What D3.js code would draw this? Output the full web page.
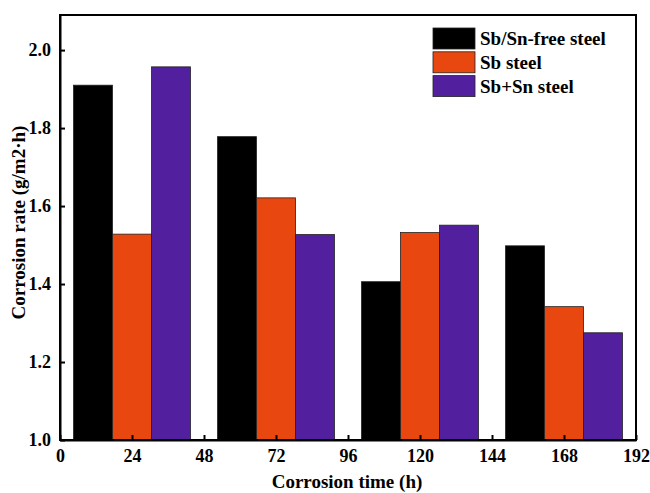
<!DOCTYPE html>
<html><head><meta charset="utf-8">
<script src="https://cdn.jsdelivr.net/npm/d3@7"></script>
<style>body{margin:0;background:#fff}svg{display:block}</style>
</head><body><svg id="c" width="650" height="493"></svg>
<script>
const times = [24, 72, 120, 168];
const seriesNames = ["Sb/Sn-free steel", "Sb steel", "Sb+Sn steel"];
const seriesColors = ["#000000", "#E8480F", "#52209E"];
const freeSteel = [1.910, 1.778, 1.406, 1.498];
const sbSteel = [1.528, 1.621, 1.532, 1.342];
const sbSnSteel = [1.957, 1.527, 1.551, 1.275];
const xTicks = [0, 24, 48, 72, 96, 120, 144, 168, 192];
const yTicks = [1.0, 1.2, 1.4, 1.6, 1.8, 2.0];
const series = [freeSteel, sbSteel, sbSnSteel];

const svg = d3.select("#c");
const L = 60, R = 636, T = 15, B = 440;
const x = d3.scaleLinear().domain([0, 192]).range([L, R]);
const y = d3.scaleLinear().domain([1.0, 2.09]).range([B, T]);
const barW = 13;
const font = "'Liberation Serif','Times New Roman',serif";

series.forEach((vals, si) => {
  svg.append("g").selectAll("rect").data(vals).join("rect")
    .attr("x", (d, i) => x(times[i] + (si - 1.5) * barW))
    .attr("width", x(barW) - x(0))
    .attr("y", d => y(d))
    .attr("height", d => y(1.0) - y(d))
    .attr("fill", seriesColors[si])
    .attr("stroke", "#222").attr("stroke-width", 0.8);
});

// frame
svg.append("rect").attr("x", L).attr("y", T).attr("width", R - L).attr("height", B - T)
  .attr("fill", "none").attr("stroke", "#000").attr("stroke-width", 2);

const xAxis = svg.append("g").attr("transform", `translate(0,${B})`)
  .call(d3.axisBottom(x).tickValues(xTicks).tickSizeInner(-5).tickSizeOuter(0).tickPadding(9).tickFormat(d3.format("d")));
const yAxis = svg.append("g").attr("transform", `translate(${L},0)`)
  .call(d3.axisLeft(y).tickValues(yTicks).tickSizeInner(-5).tickSizeOuter(0).tickPadding(9).tickFormat(d3.format(".1f")));
[xAxis, yAxis].forEach(a => {
  a.select(".domain").attr("stroke", "#000").attr("stroke-width", 2);
  a.selectAll(".tick line").attr("stroke", "#000").attr("stroke-width", 2);
  a.selectAll(".tick text").attr("fill", "#000").style("font-family", font)
    .style("font-weight", "bold").style("font-size", "18px");
});

svg.append("text").attr("x", 347).attr("y", 488).attr("text-anchor", "middle")
  .style("font-family", font).style("font-weight", "bold").style("font-size", "19px")
  .text("Corrosion time (h)");
svg.append("text").attr("transform", `translate(25,${(T + B) / 2 - 5}) rotate(-90)`)
  .attr("text-anchor", "middle")
  .style("font-family", font).style("font-weight", "bold").style("font-size", "19px")
  .text("Corrosion rate (g/m2·h)");

const lg = svg.append("g");
seriesNames.forEach((n, i) => {
  lg.append("rect").attr("x", 433).attr("y", 28 + i * 23.8).attr("width", 42).attr("height", 21)
    .attr("fill", seriesColors[i]).attr("stroke", "#222").attr("stroke-width", 0.8);
  lg.append("text").attr("x", 480).attr("y", 28 + i * 23.8 + 17)
    .style("font-family", font).style("font-weight", "bold").style("font-size", "19px")
    .text(n);
});
</script></body></html>
